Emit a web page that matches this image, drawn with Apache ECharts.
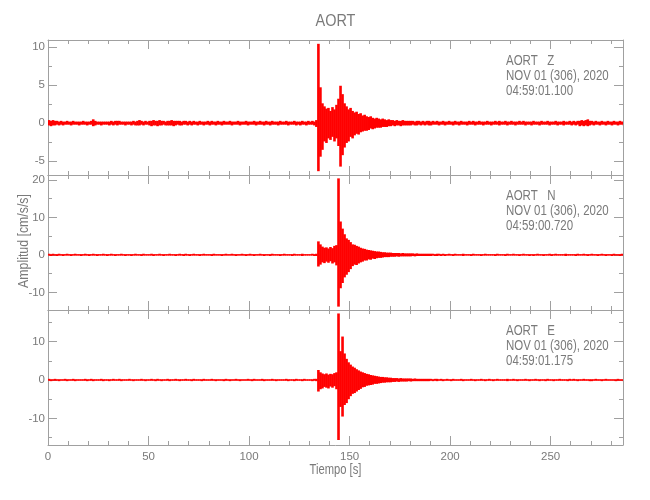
<!DOCTYPE html>
<html><head><meta charset="utf-8">
<script src="https://cdn.jsdelivr.net/npm/echarts@6/dist/echarts.min.js"></script>
<style>html,body{margin:0;padding:0;background:#fff}#c{width:650px;height:500px}</style>
</head><body><div id="c"></div>
<script>
// time axis: one envelope sample (max / min) per second, t = 0 .. 286 s
const tMax = 286;
const xTickStep = 50;

// ---- AORT Z: per-second envelope (max / min), cm/s/s ----
const Z_HI = [
.4,.3,.4,.3,.3,.2,.3,.2,.2,.3, .2,.2,.3,.2,.2,.2,.2,.3,.2,.2, .2,.3,.5,.3,.2,.2,.2,.2,.2,.2,
.2,.3,.2,.3,.3,.3,.2,.2,.2,.2, .2,.2,.3,.2,.3,.4,.3,.2,.3,.2, .3,.3,.4,.3,.3,.4,.3,.3,.2,.3,
.3,.4,.3,.3,.3,.3,.2,.3,.3,.2, .3,.2,.3,.2,.2,.3,.2,.2,.2,.3, .2,.3,.2,.2,.3,.2,.2,.3,.2,.2,
.3,.2,.2,.2,.3,.2,.2,.2,.3,.2, .2,.2,.3,.2,.2,.3,.2,.2,.3,.2, .2,.3,.2,.2,.2,.3,.2,.2,.3,.2,
.2,.2,.3,.2,.2,.2,.3,.2,.2,.3, .2,.3,.2,.4,10.4,4.7,2.6,2.2,1.9,2.0, 1.6,2.1,1.8,2.4,3.2,4.9,3.8,2.6,2.2,1.8,
2.0,1.6,1.4,1.5,1.2,1.3,1.0,1.1,.9,.8, .9,.7,.6,.7,.6,.5,.6,.5,.4,.5, .4,.4,.3,.4,.3,.3,.4,.3,.3,.3,
.3,.3,.2,.3,.3,.2,.3,.2,.3,.3, .2,.3,.2,.3,.2,.2,.3,.2,.2,.3, .2,.2,.3,.2,.2,.3,.2,.2,.2,.3,
.2,.3,.2,.2,.3,.2,.2,.2,.3,.2, .2,.2,.3,.2,.3,.2,.2,.3,.2,.2, .3,.2,.2,.2,.3,.2,.3,.2,.2,.2,
.2,.3,.2,.2,.2,.3,.2,.2,.3,.2, .2,.2,.3,.2,.2,.2,.3,.2,.2,.3, .2,.3,.2,.3,.3,.4,.3,.4,.5,.3,
.3,.2,.3,.2,.2,.3,.2,.2,.3,.2, .2,.3,.2,.2,.3,.2,.2
];
const Z_LO = [
-.3,-.4,-.3,-.3,-.2,-.3,-.2,-.3,-.2,-.2, -.2,-.3,-.2,-.2,-.2,-.3,-.2,-.2,-.2,-.3, -.2,-.2,-.4,-.3,-.2,-.2,-.3,-.2,-.2,-.2,
-.3,-.2,-.3,-.2,-.3,-.2,-.2,-.2,-.3,-.2, -.2,-.3,-.2,-.3,-.3,-.3,-.2,-.3,-.2,-.2, -.3,-.4,-.3,-.3,-.4,-.3,-.3,-.2,-.3,-.3,
-.3,-.3,-.4,-.3,-.2,-.3,-.3,-.2,-.2,-.3, -.2,-.3,-.2,-.2,-.3,-.2,-.2,-.3,-.2,-.2, -.3,-.2,-.2,-.3,-.2,-.2,-.3,-.2,-.2,-.2,
-.2,-.3,-.2,-.2,-.2,-.3,-.2,-.2,-.2,-.3, -.2,-.2,-.2,-.3,-.2,-.2,-.2,-.3,-.2,-.2, -.3,-.2,-.2,-.2,-.3,-.2,-.2,-.2,-.2,-.3,
-.2,-.2,-.2,-.3,-.2,-.3,-.2,-.2,-.3,-.2, -.2,-.2,-.3,-.5,-6.3,-4.4,-3.5,-2.4,-2.6,-2.0, -2.2,-1.8,-2.4,-2.0,-3.0,-5.7,-4.2,-3.2,-2.6,-2.4,
-1.8,-2.0,-1.6,-1.4,-1.5,-1.2,-1.1,-1.0,-1.0,-.9, -.7,-.8,-.7,-.6,-.6,-.6,-.5,-.5,-.5,-.4, -.4,-.3,-.4,-.3,-.3,-.4,-.3,-.3,-.3,-.3,
-.3,-.2,-.3,-.3,-.2,-.3,-.2,-.3,-.2,-.3, -.3,-.2,-.2,-.2,-.3,-.2,-.2,-.3,-.2,-.2, -.2,-.3,-.2,-.2,-.3,-.2,-.2,-.2,-.3,-.2,
-.2,-.2,-.3,-.2,-.2,-.2,-.3,-.2,-.2,-.2, -.3,-.2,-.2,-.2,-.3,-.2,-.2,-.2,-.3,-.2, -.2,-.2,-.3,-.2,-.2,-.2,-.2,-.3,-.2,-.2,
-.3,-.2,-.2,-.2,-.3,-.2,-.2,-.2,-.2,-.3, -.2,-.2,-.2,-.3,-.2,-.2,-.3,-.2,-.2,-.2, -.3,-.2,-.3,-.2,-.4,-.3,-.4,-.3,-.4,-.3,
-.2,-.3,-.2,-.2,-.3,-.2,-.2,-.3,-.2,-.2, -.3,-.2,-.2,-.3,-.2,-.2,-.3
];

// ---- AORT N ----
const N_HI = [
.3,.2,.3,.2,.2,.3,.2,.2,.2,.3, .2,.2,.2,.3,.2,.2,.2,.2,.3,.2, .2,.2,.3,.2,.2,.2,.2,.3,.2,.2,
.2,.3,.2,.2,.2,.2,.3,.2,.2,.2, .2,.2,.2,.3,.2,.2,.2,.3,.2,.2, .2,.3,.2,.2,.2,.3,.2,.2,.2,.2,
.3,.2,.2,.2,.2,.3,.2,.2,.3,.2, .2,.2,.3,.2,.2,.2,.2,.3,.2,.2, .2,.2,.3,.2,.2,.2,.2,.2,.3,.2,
.2,.3,.2,.2,.2,.2,.3,.2,.2,.2, .3,.2,.2,.2,.2,.3,.2,.2,.2,.2, .2,.3,.2,.2,.2,.2,.2,.3,.2,.2,
.2,.2,.3,.2,.2,.2,.3,.2,.2,.2, .2,.3,.2,.3,3.6,2.8,2.2,1.9,2.0,1.7, 2.1,1.8,2.4,2.6,20.4,8.9,7.0,5.5,4.4,4.0,
3.4,2.8,2.7,2.4,2.2,1.9,1.7,1.6,1.4,1.3, 1.2,1.1,1.0,.9,.9,.8,.7,.7,.6,.6, .6,.5,.5,.5,.5,.4,.5,.4,.4,.4,
.4,.4,.3,.4,.3,.3,.3,.3,.3,.3, .3,.3,.2,.3,.3,.2,.3,.2,.2,.3, .2,.2,.3,.2,.2,.2,.3,.2,.2,.2,
.2,.3,.2,.2,.2,.2,.2,.3,.2,.2, .2,.2,.2,.3,.2,.2,.2,.2,.3,.2, .2,.3,.2,.2,.2,.2,.3,.2,.2,.2,
.2,.2,.2,.3,.2,.2,.2,.2,.2,.3, .2,.2,.3,.2,.2,.2,.2,.3,.2,.2, .2,.2,.2,.3,.2,.2,.3,.2,.2,.2,
.3,.2,.2,.2,.2,.3,.2,.2,.2,.2, .2,.3,.2,.2,.2,.3,.2
];
const N_LO = [
-.2,-.3,-.2,-.2,-.3,-.2,-.2,-.3,-.2,-.2, -.2,-.3,-.2,-.2,-.2,-.2,-.3,-.2,-.2,-.2, -.3,-.2,-.2,-.2,-.3,-.2,-.2,-.2,-.2,-.3,
-.2,-.2,-.2,-.3,-.2,-.2,-.2,-.2,-.3,-.2, -.2,-.3,-.2,-.2,-.2,-.2,-.3,-.2,-.2,-.2, -.2,-.2,-.3,-.2,-.2,-.2,-.2,-.3,-.2,-.2,
-.2,-.2,-.2,-.3,-.2,-.2,-.2,-.3,-.2,-.2, -.3,-.2,-.2,-.2,-.2,-.3,-.2,-.2,-.2,-.2, -.2,-.3,-.2,-.2,-.2,-.2,-.3,-.2,-.2,-.2,
-.2,-.2,-.2,-.3,-.2,-.2,-.2,-.2,-.3,-.2, -.2,-.2,-.3,-.2,-.2,-.2,-.2,-.3,-.2,-.2, -.3,-.2,-.2,-.2,-.2,-.3,-.2,-.2,-.2,-.2,
-.2,-.3,-.2,-.2,-.2,-.2,-.3,-.2,-.2,-.2, -.2,-.2,-.3,-.3,-3.1,-2.6,-2.0,-2.2,-1.8,-2.1, -1.7,-2.3,-2.0,-2.8,-13.8,-8.9,-7.5,-6.0,-5.3,-4.6,
-3.8,-3.0,-2.6,-2.7,-2.3,-2.0,-1.8,-1.5,-1.5,-1.2, -1.3,-1.0,-1.1,-.9,-.8,-.8,-.7,-.6,-.6,-.6, -.5,-.5,-.5,-.4,-.5,-.4,-.4,-.4,-.4,-.4,
-.4,-.3,-.4,-.3,-.3,-.3,-.3,-.3,-.3,-.3, -.3,-.2,-.3,-.3,-.2,-.3,-.2,-.3,-.2,-.2, -.2,-.3,-.2,-.2,-.2,-.2,-.3,-.2,-.2,-.2,
-.3,-.2,-.2,-.2,-.2,-.3,-.2,-.2,-.2,-.2, -.2,-.2,-.3,-.2,-.2,-.2,-.2,-.3,-.2,-.2, -.2,-.2,-.2,-.2,-.3,-.2,-.2,-.2,-.2,-.3,
-.2,-.3,-.2,-.2,-.2,-.2,-.3,-.2,-.2,-.2, -.3,-.2,-.2,-.2,-.2,-.2,-.2,-.3,-.2,-.2, -.2,-.2,-.3,-.2,-.2,-.2,-.2,-.2,-.3,-.2,
-.2,-.2,-.2,-.3,-.2,-.2,-.2,-.3,-.2,-.2, -.3,-.2,-.2,-.2,-.3,-.2,-.2
];

// ---- AORT E ----
const E_HI = [
.3,.2,.2,.3,.2,.2,.2,.2,.3,.2, .2,.2,.3,.2,.2,.2,.2,.2,.3,.2, .2,.3,.2,.2,.2,.2,.3,.2,.2,.2,
.2,.2,.3,.2,.2,.3,.2,.2,.2,.2, .3,.2,.2,.2,.2,.2,.3,.2,.2,.2, .2,.3,.2,.2,.3,.2,.2,.2,.2,.3,
.2,.2,.2,.3,.2,.2,.2,.2,.3,.2, .2,.2,.3,.2,.2,.2,.2,.3,.2,.2, .2,.3,.2,.2,.2,.2,.2,.2,.3,.2,
.2,.2,.2,.3,.2,.2,.2,.2,.2,.3, .2,.2,.3,.2,.2,.2,.3,.2,.2,.2, .2,.3,.2,.2,.2,.2,.2,.2,.3,.2,
.2,.2,.2,.3,.2,.2,.2,.3,.2,.2, .2,.2,.3,.3,2.6,2.0,1.7,1.5,1.7,1.4, 1.6,1.5,1.8,2.0,17.3,7.5,11.3,6.9,5.5,4.6,
4.0,3.5,3.2,2.8,2.5,2.2,2.0,1.8,1.6,1.5, 1.3,1.2,1.1,1.0,.9,.8,.8,.7,.7,.6, .6,.5,.5,.5,.4,.5,.4,.4,.4,.4,
.4,.3,.4,.3,.3,.3,.3,.3,.3,.3, .3,.2,.3,.3,.2,.3,.2,.2,.3,.2, .2,.3,.2,.2,.2,.3,.2,.2,.2,.2,
.3,.2,.2,.2,.2,.3,.2,.2,.2,.3, .2,.2,.2,.3,.2,.2,.2,.2,.3,.2, .2,.3,.2,.2,.2,.2,.2,.3,.2,.2,
.2,.2,.3,.2,.2,.2,.2,.2,.3,.2, .2,.2,.2,.2,.3,.2,.2,.2,.2,.3, .2,.3,.2,.2,.2,.2,.3,.2,.2,.2,
.2,.2,.3,.2,.2,.2,.2,.3,.2,.2, .2,.2,.2,.3,.2,.2,.2
];
const E_LO = [
-.2,-.3,-.2,-.2,-.2,-.3,-.2,-.2,-.2,-.3, -.2,-.2,-.2,-.3,-.2,-.2,-.2,-.2,-.2,-.3, -.2,-.2,-.3,-.2,-.2,-.2,-.2,-.3,-.2,-.2,
-.3,-.2,-.2,-.2,-.2,-.2,-.3,-.2,-.2,-.2, -.2,-.2,-.3,-.2,-.2,-.2,-.2,-.2,-.3,-.2, -.2,-.2,-.2,-.3,-.2,-.2,-.3,-.2,-.2,-.2,
-.3,-.2,-.2,-.2,-.2,-.3,-.2,-.2,-.2,-.2, -.2,-.3,-.2,-.2,-.2,-.2,-.3,-.2,-.2,-.2, -.2,-.2,-.2,-.3,-.2,-.2,-.2,-.3,-.2,-.2,
-.3,-.2,-.2,-.2,-.2,-.3,-.2,-.2,-.2,-.2, -.2,-.3,-.2,-.2,-.2,-.2,-.2,-.3,-.2,-.2, -.2,-.2,-.2,-.3,-.2,-.2,-.2,-.2,-.2,-.3,
-.2,-.2,-.3,-.2,-.2,-.2,-.3,-.2,-.2,-.2, -.2,-.3,-.2,-.3,-3.0,-2.4,-2.2,-1.8,-2.0,-2.2, -1.7,-2.0,-1.6,-2.4,-15.6,-7.0,-9.5,-6.5,-6.0,-5.0,
-4.2,-3.6,-3.4,-3.0,-2.6,-2.3,-1.9,-1.8,-1.5,-1.4, -1.3,-1.2,-1.0,-1.0,-.9,-.8,-.7,-.7,-.6,-.6, -.6,-.5,-.5,-.4,-.5,-.4,-.4,-.4,-.4,-.3,
-.4,-.3,-.3,-.3,-.3,-.3,-.3,-.3,-.3,-.3, -.2,-.3,-.2,-.3,-.2,-.2,-.3,-.2,-.2,-.2, -.3,-.2,-.2,-.2,-.2,-.2,-.3,-.2,-.2,-.2,
-.2,-.2,-.3,-.2,-.2,-.2,-.2,-.3,-.2,-.2, -.2,-.3,-.2,-.2,-.2,-.2,-.2,-.2,-.3,-.2, -.2,-.2,-.2,-.3,-.2,-.2,-.2,-.2,-.2,-.3,
-.2,-.2,-.2,-.2,-.3,-.2,-.2,-.3,-.2,-.2, -.2,-.3,-.2,-.2,-.2,-.2,-.2,-.2,-.3,-.2, -.2,-.2,-.2,-.3,-.2,-.2,-.2,-.2,-.2,-.3,
-.3,-.2,-.2,-.2,-.2,-.3,-.2,-.2,-.2,-.2, -.2,-.2,-.3,-.2,-.2,-.2,-.3
];

const stationName = 'AORT';
const channelLabels = ['AORT   Z', 'AORT   N', 'AORT   E'];
const dateLabel = 'NOV 01 (306), 2020';
const startTimes = ['04:59:01.100', '04:59:00.720', '04:59:01.175'];
const yMins = [-6.8, -14.7, -16.9];
const yMaxs = [10.9, 21.3, 18.2];
const yTickSteps = [5, 10, 10];
const hiSets = [Z_HI, N_HI, E_HI];
const loSets = [Z_LO, N_LO, E_LO];
const xAxisTitle = 'Tiempo [s]';
const yAxisTitle = 'Amplitud [cm/s/s]';

// ---- layout / style ----
const FONT = '"Liberation Sans","Arial",sans-serif';
const AX = '#a0a0a0';
const TXT = '#7a7a7a';
const gridTops = [40, 175, 310];
const gridH = 135;
const gridLeft = 48, gridRight = 27;

function envelopeRows(hi, lo) {
  const rows = [];
  const n = Math.min(hi.length, lo.length);
  for (let i = 0; i < n; i++) rows.push([i, hi[i], lo[i]]);
  return rows;
}

function renderColumn(params, api) {
  const t = api.value(0), hi = api.value(1), lo = api.value(2);
  const a = api.coord([t, hi]);
  const b = api.coord([t + 1, lo]);
  const cs = params.coordSys;
  let h = b[1] - a[1];
  let y = a[1];
  if (h < 1.2) { y -= (1.2 - h) / 2; h = 1.2; }
  const rect = echarts.graphic.clipRectByRect(
    {x: a[0] - 0.3, y: y, width: b[0] - a[0] + 0.6, height: h},
    {x: cs.x, y: cs.y, width: cs.width, height: cs.height});
  if (!rect) return null;
  return {type: 'rect', shape: rect, style: {fill: '#ff0000'}};
}

const grids = [], xAxes = [], yAxes = [], series = [], graphics = [];
for (let p = 0; p < 3; p++) {
  grids.push({left: gridLeft, right: gridRight, top: gridTops[p], height: gridH});
  const tick = {inside: true, length: 9, lineStyle: {color: AX, width: 1}};
  const xBase = {
    type: 'value', gridIndex: p, min: 0, max: tMax,
    minInterval: xTickStep, maxInterval: xTickStep,
    axisLine: {show: true, onZero: false, lineStyle: {color: AX, width: 1}},
    axisTick: tick,
    minorTick: {show: true, splitNumber: 5, length: 4, lineStyle: {color: AX, width: 1}},
    splitLine: {show: false}
  };
  xAxes.push(Object.assign({}, xBase, {
    position: 'bottom',
    axisLabel: {show: p === 2, color: TXT, fontFamily: FONT, fontSize: 11.5, margin: 6, showMaxLabel: false}
  }));
  xAxes.push(Object.assign({}, xBase, {position: 'top', axisLabel: {show: false}}));
  const yBase = {
    type: 'value', gridIndex: p, min: yMins[p], max: yMaxs[p],
    minInterval: yTickSteps[p], maxInterval: yTickSteps[p],
    axisLine: {show: true, onZero: false, lineStyle: {color: AX, width: 1}},
    axisTick: tick,
    minorTick: {show: true, splitNumber: 2, length: 4, lineStyle: {color: AX, width: 1}},
    splitLine: {show: false}
  };
  yAxes.push(Object.assign({}, yBase, {
    position: 'left',
    axisLabel: {color: TXT, fontFamily: FONT, fontSize: 11.5, margin: 3, showMinLabel: false, showMaxLabel: false}
  }));
  yAxes.push(Object.assign({}, yBase, {position: 'right', axisLabel: {show: false}}));
  series.push({
    type: 'custom', xAxisIndex: p * 2, yAxisIndex: p * 2,
    data: envelopeRows(hiSets[p], loSets[p]),
    encode: {x: 0, y: [1, 2]},
    renderItem: renderColumn, silent: true, clip: true
  });
  graphics.push({
    type: 'text', x: 506, y: gridTops[p] + 14, scaleX: 0.82,
    style: {text: [channelLabels[p], dateLabel, startTimes[p]].join('\n'),
      fill: TXT, font: '14px ' + FONT, lineHeight: 15, textAlign: 'left', textVerticalAlign: 'top'}
  });
}
graphics.push({
  type: 'text', x: 335.5, y: 21, scaleX: 0.85,
  style: {text: stationName, fill: TXT, font: '17px ' + FONT, textAlign: 'center', textVerticalAlign: 'middle'}
});
graphics.push({
  type: 'text', x: 335.5, y: 470, scaleX: 0.8,
  style: {text: xAxisTitle, fill: TXT, font: '14px ' + FONT, textAlign: 'center', textVerticalAlign: 'middle'}
});
graphics.push({
  type: 'text', x: 24, y: 241, rotation: Math.PI / 2, scaleX: 0.88,
  style: {text: yAxisTitle, fill: TXT, font: '14px ' + FONT, textAlign: 'center', textVerticalAlign: 'middle'}
});

const chart = echarts.init(document.getElementById('c'), null, {renderer: 'canvas'});
chart.setOption({
  backgroundColor: '#fff',
  animation: false,
  grid: grids, xAxis: xAxes, yAxis: yAxes, series: series, graphic: graphics
});
</script></body></html>
